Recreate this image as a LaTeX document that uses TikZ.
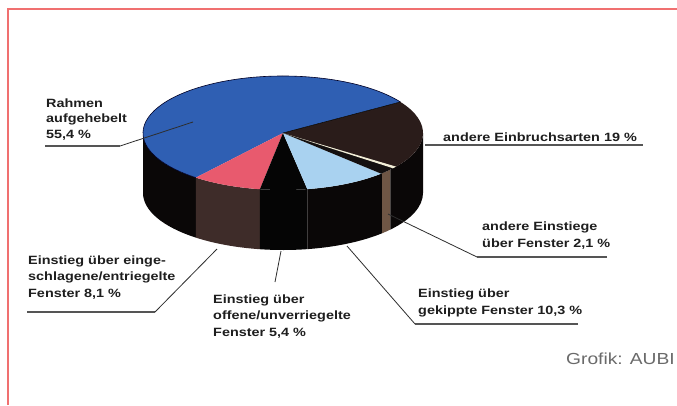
\documentclass[tikz,border=0pt]{standalone}
\usepackage{fontspec}
\newfontfamily\labfont{Liberation Sans}[FakeStretch=1.2]
\definecolor{framered}{HTML}{F07070}
\definecolor{labcol}{HTML}{1E1E1E}
\definecolor{ulcol}{HTML}{555555}
\definecolor{ldcol}{HTML}{2E2E2E}
\definecolor{pieblue}{HTML}{2F5FB3}
\definecolor{piepink}{HTML}{E85A6E}
\definecolor{pielight}{HTML}{A9D2F0}
\definecolor{piebrown}{HTML}{2A1C1A}
\definecolor{pieblack}{HTML}{050505}
\definecolor{pinkside}{HTML}{3E2C29}
\definecolor{sideblack}{HTML}{0A0707}
\definecolor{tanside}{HTML}{6F5645}
\definecolor{cream}{HTML}{F3EFD8}
\definecolor{sliverdark}{HTML}{141010}
\definecolor{grofik}{HTML}{6A6A6A}
\newcommand\prx{140}
\newcommand\pry{57}
\newcommand\pht{60}
\newcommand\pieside[3]{\fill[#3] (#1:\prx\space and \pry) arc[start angle=#1, end angle=#2, x radius=\prx, y radius=\pry] -- ++(0,-\pht) arc[start angle=#2, end angle=#1, x radius=\prx, y radius=\pry] -- cycle;}
\newcommand\pietop[3]{\fill[#3] (0,0) -- (#1:\prx\space and \pry) arc[start angle=#1, end angle=#2, x radius=\prx, y radius=\pry] -- cycle;}
\begin{document}
\begin{tikzpicture}[x=1pt,y=-1pt,
  lab/.style={font=\labfont\bfseries\fontsize{12}{16.5}\selectfont, text=labcol, align=left, anchor=base west, inner sep=0pt},
  uline/.style={draw=ulcol, line width=1.4pt},
  leader/.style={draw=ldcol, line width=0.8pt},
]
\fill[white] (0,0) rectangle (677,405);
\useasboundingbox (0,0) rectangle (677,405);
\draw[framered, line width=1.2pt] (8,405) -- (8,9) -- (677,9);

\begin{scope}[shift={(283,133)}, yscale=-1]
  % sides
  \pieside{180}{231.5}{sideblack}
  \pieside{231.5}{260.5}{pinkside}
  \pieside{260.5}{280}{pieblack}
  \pieside{280}{315}{sideblack}
  \pieside{315}{320}{tanside}
  \pieside{320}{360}{sideblack}
  % tops
  \pietop{33}{231.5}{pieblue}
  \pietop{231.5}{260.5}{piepink}
  \pietop{260.5}{280}{pieblack}
  \pietop{280}{314.5}{pielight}
  \pietop{314.5}{324}{sliverdark}
  \pietop{321.8}{324}{cream}
  \pietop{324}{393}{piebrown}
  \draw[black!85!blue, line width=0.6pt] (33:\prx\space and \pry) arc[start angle=33, end angle=231.5, x radius=\prx, y radius=\pry];
  \draw[black, line width=0.5pt] (0,0) -- (33:\prx\space and \pry);
\end{scope}

% labels (anchor = baseline of the last line)
\node[lab, font=\labfont\bfseries\fontsize{12}{15.5}\selectfont] (rahmen) at (46,138) {Rahmen\\aufgehebelt\\55,4 \%};
\coordinate (r1) at (45,146); \coordinate (r2) at (120,146); \coordinate (r3) at (193,122);
\draw[uline] (r1) -- (r2); \draw[leader] (r2) -- (r3);

\node[lab] (andere) at (443,141) {andere Einbruchsarten 19 \%};
\coordinate (a1) at (425,145); \coordinate (a2) at (643,145);
\draw[uline] (a1) -- (a2);

\node[lab] (einst) at (482,247) {andere Einstiege\\über Fenster 2,1 \%};
\coordinate (e1) at (607,257); \coordinate (e2) at (477,257); \coordinate (e3) at (388,214);
\draw[uline] (e1) -- (e2); \draw[leader] (e2) -- (e3);

\node[lab] (gekippt) at (418,314) {Einstieg über\\gekippte Fenster 10,3 \%};
\coordinate (g1) at (578,324); \coordinate (g2) at (415,324); \coordinate (g3) at (347,246);
\draw[uline] (g1) -- (g2); \draw[leader] (g2) -- (g3);

\node[lab] (offen) at (213,336) {Einstieg über\\offene/unverriegelte\\Fenster 5,4 \%};
\coordinate (o1) at (275,282); \coordinate (o2) at (281,251);
\draw[leader] (o1) -- (o2);

\node[lab] (eingesch) at (28,297) {Einstieg über einge-\\schlagene/entriegelte\\Fenster 8,1 \%};
\coordinate (s1) at (27,312); \coordinate (s2) at (155,312); \coordinate (s3) at (217,249);
\draw[uline] (s1) -- (s2); \draw[leader] (s2) -- (s3);

\node[font=\labfont\fontsize{16}{18}\selectfont, text=grofik, anchor=base west, inner sep=0pt] (quelle) at (566,364) {Grofik: AUBI};
\end{tikzpicture}
\end{document}
